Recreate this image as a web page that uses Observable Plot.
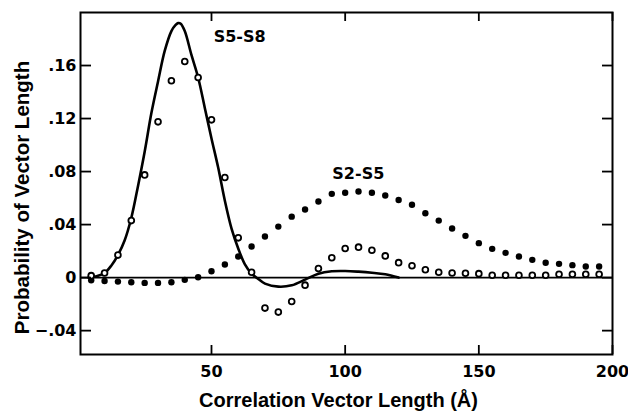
<!DOCTYPE html>
<html><head><meta charset="utf-8">
<script src="https://cdn.jsdelivr.net/npm/d3@7"></script>
<script src="https://cdn.jsdelivr.net/npm/@observablehq/plot@0.6"></script>
<style>
html,body{margin:0;padding:0;background:#fff;}
</style></head><body><div id="chart"></div>
<script>
// Correlation vector lengths (Å) of the measured points
const vectorLength = [5,10,15,20,25,30,35,40,45,50,55,60,65,70,75,80,85,90,95,100,105,110,115,120,125,130,135,140,145,150,155,160,165,170,175,180,185,190,195];
// S5-S8 measured (open circles)
const s5s8 = [0.0015,0.0035,0.017,0.043,0.0775,0.1175,0.1485,0.163,0.151,0.119,0.0755,0.030,0.004,-0.023,-0.026,-0.018,-0.0057,0.0068,0.015,0.022,0.023,0.0207,0.0164,0.0113,0.009,0.0059,0.004,0.0035,0.0033,0.003,0.0018,0.0018,0.0018,0.0018,0.0018,0.0025,0.0025,0.0025,0.0025];
// S2-S5 measured (filled dots)
const s2s5 = [-0.002,-0.0025,-0.003,-0.0035,-0.004,-0.004,-0.0035,-0.0017,0.0003,0.0048,0.0099,0.0159,0.0235,0.031,0.0385,0.046,0.0514,0.0574,0.0632,0.064,0.065,0.064,0.062,0.0585,0.055,0.0486,0.043,0.037,0.0315,0.026,0.0217,0.0187,0.0159,0.0134,0.0112,0.0104,0.0094,0.0084,0.0084];
// S5-S8 fitted curve (solid line)
const curveX = [4,7,10,12.5,15,17.5,20,22.5,25,27.5,30,32.5,35,36.5,37.5,38.5,40,42.5,45,47.5,50,52.5,55,57.5,60,62.5,65,67.5,70,75,80,85,90,95,100,105,110,115,120];
const curveY = [0.0,0.001,0.0035,0.009,0.017,0.028,0.045,0.069,0.095,0.124,0.148,0.171,0.186,0.1905,0.192,0.1915,0.186,0.168,0.151,0.128,0.105,0.083,0.058,0.037,0.022,0.010,0.003,-0.001,-0.0045,-0.0068,-0.0058,-0.0015,0.003,0.0048,0.005,0.0045,0.0037,0.0025,0.0];
const xTicks = [50,100,150,200];
const yTicks = [-0.04,0,0.04,0.08,0.12,0.16];
const seriesLabels = [
  {x: 50.8, y: 0.1815, text: "S5-S8"},
  {x: 95.2, y: 0.0785, text: "S2-S5"}
];
const xLabel = "Correlation Vector Length (Å)";
const yLabel = "Probability of Vector Length";

const observed = vectorLength.map((x, i) => ({x, s5s8: s5s8[i], s2s5: s2s5[i]}));
const curve = curveX.map((x, i) => ({x, y: curveY[i]}));
const yFmt = d => d === 0 ? "0" : d3.format(".2f")(d).replace("0.", ".");
const tickFont = {fontFamily: "DejaVu Sans", fontWeight: "bold", fontSize: 16};

const W = 628, H = 412, ML = 80, MR = 16, MT = 12, MB = 58;
const frameW = W - ML - MR, frameH = H - MT - MB;

const chart = Plot.plot({
  width: W, height: H,
  marginLeft: ML, marginRight: MR, marginTop: MT, marginBottom: MB,
  x: {domain: [1, 200]},
  y: {domain: [-0.058, 0.2]},
  axis: null,
  style: {background: "#fff", color: "#000"},
  marks: [
    Plot.ruleY([0], {stroke: "#000", strokeWidth: 1.6}),
    Plot.line(curve, {x: "x", y: "y", curve: "catmull-rom", stroke: "#000", strokeWidth: 2.6}),
    Plot.dot(observed, {x: "x", y: "s2s5", r: 3.2, fill: "#000", stroke: "none"}),
    Plot.dot(observed, {x: "x", y: "s5s8", r: 2.9, fill: "#fff", stroke: "#000", strokeWidth: 1.8}),
    Plot.text(seriesLabels, {x: "x", y: "y", text: "text", textAnchor: "start", lineAnchor: "middle", ...tickFont, fill: "#000"}),
    // inward ticks on all four sides
    Plot.tickX(xTicks, {x: d => d, insetTop: frameH - 9, stroke: "#000", strokeWidth: 1.8}),
    Plot.tickX(xTicks, {x: d => d, insetBottom: frameH - 9, stroke: "#000", strokeWidth: 1.8}),
    Plot.tickY(yTicks, {y: d => d, insetRight: frameW - 11, stroke: "#000", strokeWidth: 1.8}),
    Plot.tickY(yTicks, {y: d => d, insetLeft: frameW - 10, stroke: "#000", strokeWidth: 1.8}),
    Plot.frame({stroke: "#000", strokeWidth: 2}),
    // tick labels
    Plot.axisX(xTicks, {anchor: "bottom", tickSize: 0, tickPadding: 11, tickFormat: d => String(d), label: null, ...tickFont}),
    Plot.axisY(yTicks, {anchor: "left", tickSize: 0, tickPadding: 4, tickFormat: yFmt, label: null, ...tickFont}),
    // axis titles
    Plot.text([xLabel], {frameAnchor: "bottom", dx: -8, dy: 52, lineAnchor: "bottom", textAnchor: "middle", fontFamily: "Liberation Sans", fontWeight: "bold", fontSize: 20, fill: "#000"}),
    Plot.text([yLabel], {frameAnchor: "left", dx: -52, dy: 14, rotate: -90, lineAnchor: "bottom", textAnchor: "middle", fontFamily: "Liberation Sans", fontWeight: "bold", fontSize: 20.5, fill: "#000"})
  ]
});
document.getElementById("chart").appendChild(chart);
</script>
</body></html>
